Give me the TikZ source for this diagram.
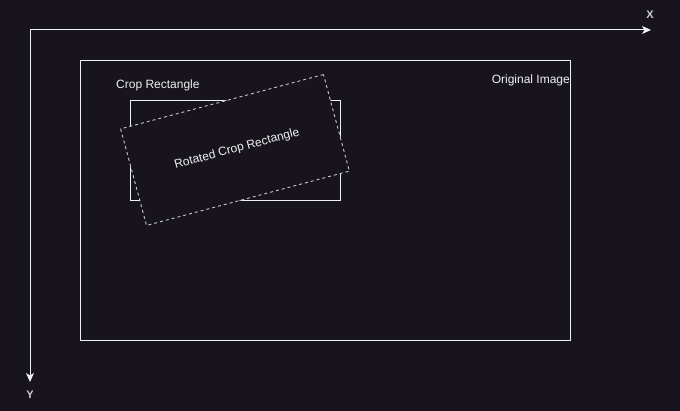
\documentclass[tikz,border=0pt]{standalone}
\usepackage{fontspec}
\setmainfont{Liberation Sans}
\usetikzlibrary{arrows.meta}
\definecolor{bg}{RGB}{24,20,29}
\definecolor{fg}{RGB}{240,240,240}
\definecolor{dash}{RGB}{200,200,200}
\begin{document}
\begin{tikzpicture}[x=1pt,y=-1pt,
  lbl/.style={text=fg,font=\fontsize{12}{14}\selectfont,inner sep=0pt},
  axislbl/.style={text=fg!85!bg,font=\bfseries\fontsize{11}{13}\selectfont,inner sep=0pt},
  axis/.style={draw=fg,line width=1pt,-{Stealth[length=9pt,width=8pt,inset=2.5pt]}},
  solidbox/.style={draw=fg,line width=0.9pt,inner sep=0pt},
  dashbox/.style={draw=dash,fill=bg,dash pattern=on 3pt off 3pt,line width=0.9pt,inner sep=0pt}]
\fill[bg] (0,0) rectangle (680,411);
\useasboundingbox (0,0) rectangle (680,411);
\coordinate (o) at (30,30);
\coordinate (xe) at (651,30);
\coordinate (ye) at (30,382);
\draw[axis] (o) -- (xe);
\draw[axis] (o) -- (ye);
\node[axislbl] (xl) at (650,15) {X};
\node[axislbl] (yl) at (30,395) {Y};
\node[solidbox,minimum width=490pt,minimum height=280pt] (orig) at (325,200) {};
\node[solidbox,minimum width=210pt,minimum height=100pt] (crop) at (235,150) {};
\node[dashbox,minimum width=210pt,minimum height=100pt,rotate=15] (rot) at (235,150) {};
\node[lbl,anchor=east] (origl) at (570,80) {Original Image};
\node[lbl,anchor=west] (cropl) at (116,85) {Crop Rectangle};
\node[lbl,rotate=15] (rotl) at (237,149) {Rotated Crop Rectangle};
\end{tikzpicture}
\end{document}
